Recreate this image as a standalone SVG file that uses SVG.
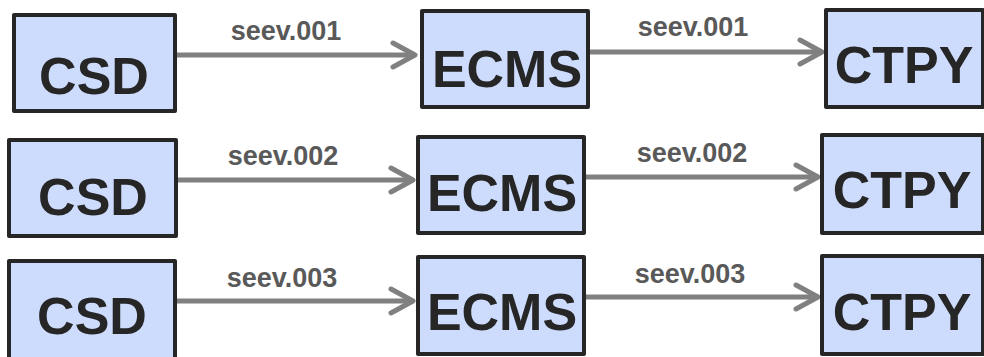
<svg xmlns="http://www.w3.org/2000/svg" width="984" height="357" viewBox="0 0 984 357">
<style>
.box{fill:#cddcfd;stroke:#262626;stroke-width:4;stroke-linejoin:round}
.big{font-family:"Liberation Sans",Arial,sans-serif;font-weight:bold;font-size:52px;fill:#262626;text-anchor:middle}
.lbl{font-family:"Liberation Sans",Arial,sans-serif;font-weight:bold;font-size:27px;fill:#595959;text-anchor:middle}
.conn{stroke:#808080;stroke-width:5;fill:none}
</style>
<defs>
<marker id="ah" markerUnits="userSpaceOnUse" viewBox="-27 -16 31 32" markerWidth="31" markerHeight="32" refX="0" refY="0" orient="auto">
<path d="M-22,-12 L0,0 L-22,12" fill="none" stroke="#808080" stroke-width="5" stroke-linecap="round" stroke-linejoin="round"/>
</marker>
</defs>
<g id="connectors">
<g id="c1"><line class="conn" x1="177" y1="55" x2="415" y2="55" marker-end="url(#ah)"/><text class="lbl" x="286" y="40">seev.001</text></g>
<g id="c2"><line class="conn" x1="590" y1="52" x2="822" y2="52" marker-end="url(#ah)"/><text class="lbl" x="693" y="36">seev.001</text></g>
<g id="c3"><line class="conn" x1="178" y1="180" x2="413" y2="180" marker-end="url(#ah)"/><text class="lbl" x="283" y="165">seev.002</text></g>
<g id="c4"><line class="conn" x1="586" y1="177" x2="818" y2="177" marker-end="url(#ah)"/><text class="lbl" x="692" y="162">seev.002</text></g>
<g id="c5"><line class="conn" x1="177" y1="301" x2="413" y2="301" marker-end="url(#ah)"/><text class="lbl" x="282" y="287">seev.003</text></g>
<g id="c6"><line class="conn" x1="586" y1="297" x2="818" y2="297" marker-end="url(#ah)"/><text class="lbl" x="690" y="283">seev.003</text></g>
</g>
<g id="csd1"><rect class="box" x="14" y="15" width="161" height="96"/><text class="big" x="94" y="94">CSD</text></g>
<g id="ecms1"><rect class="box" x="422" y="11" width="166" height="96"/><text class="big" x="507" y="87">ECMS</text></g>
<g id="ctpy1"><rect class="box" x="826" y="10" width="157" height="97"/><text class="big" x="904" y="83">CTPY</text></g>
<g id="csd2"><rect class="box" x="9" y="140" width="167" height="96"/><text class="big" x="93" y="215">CSD</text></g>
<g id="ecms2"><rect class="box" x="418" y="137" width="166" height="96"/><text class="big" x="502" y="211">ECMS</text></g>
<g id="ctpy2"><rect class="box" x="822" y="135" width="161" height="98"/><text class="big" x="902" y="208">CTPY</text></g>
<g id="csd3"><rect class="box" x="9" y="261" width="166" height="98"/><text class="big" x="92" y="334">CSD</text></g>
<g id="ecms3"><rect class="box" x="418" y="257" width="166" height="97"/><text class="big" x="502" y="330">ECMS</text></g>
<g id="ctpy3"><rect class="box" x="822" y="256" width="161" height="98"/><text class="big" x="902" y="330">CTPY</text></g>
</svg>
